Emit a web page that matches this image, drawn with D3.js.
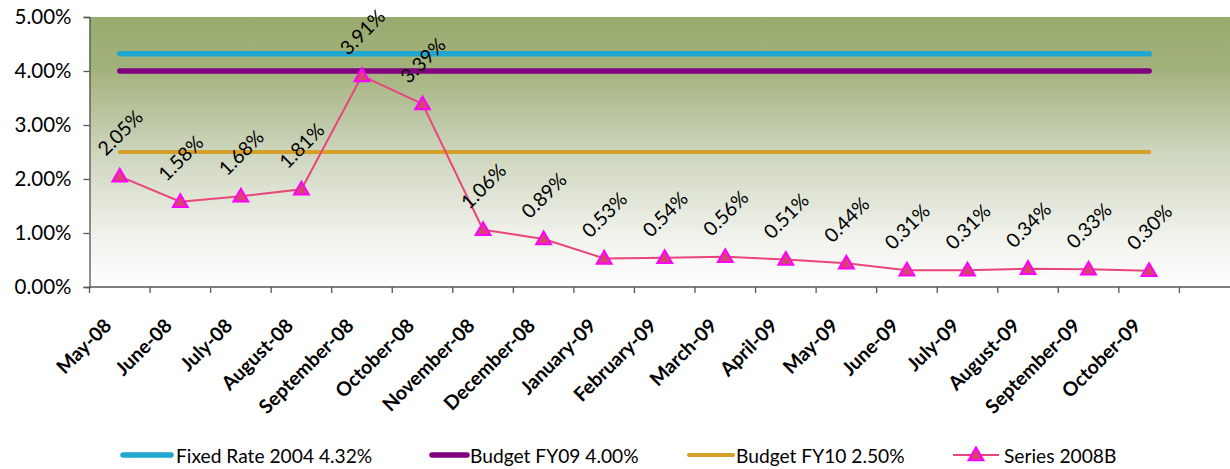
<!DOCTYPE html>
<html>
<head>
<meta charset="utf-8">
<script src="https://cdn.jsdelivr.net/npm/d3@7/dist/d3.min.js"></script>
<style>
  html, body { margin: 0; padding: 0; background: #ffffff; }
  svg { display: block; }
  text { font-family: Lato, "Open Sans", sans-serif; fill: #000; }
</style>
</head>
<body>
<svg id="chart" width="1230" height="469"></svg>
<script>
// Monthly categories (one trailing empty slot keeps the axis running past October-09)
const months = ["May-08", "June-08", "July-08", "August-08", "September-08", "October-08",
  "November-08", "December-08", "January-09", "February-09", "March-09", "April-09",
  "May-09", "June-09", "July-09", "August-09", "September-09", "October-09"];
const slots = months.concat([""]);

// Rates in percent
const series2008B = [2.05, 1.58, 1.68, 1.81, 3.91, 3.39, 1.06, 0.89, 0.53, 0.54,
  0.56, 0.51, 0.44, 0.31, 0.31, 0.34, 0.33, 0.30];
const fixedRate2004 = 4.32;
const budgetFY09 = 4.00;
const budgetFY10 = 2.50;

const yTicks = [0, 1, 2, 3, 4, 5];

const legendNames = ["Fixed Rate 2004 4.32%", "Budget FY09 4.00%", "Budget FY10 2.50%", "Series 2008B"];

const svg = d3.select("#chart");
const plotLeft = 89.5, plotTop = 17, plotBottom = 287;
const band = 60.55;

const x = d3.scaleBand().domain(d3.range(slots.length))
  .range([plotLeft, plotLeft + band * slots.length]).paddingInner(0).paddingOuter(0);
const cx = i => x(i) + x.bandwidth() / 2;
const y = d3.scaleLinear().domain([0, 5]).range([plotBottom, plotTop]);

// Plot-area gradient fill
const defs = svg.append("defs");
const grad = defs.append("linearGradient").attr("id", "plotFill")
  .attr("x1", 0).attr("y1", 0).attr("x2", 0).attr("y2", 1);
[[0, "#9aab70"], [0.18, "#a1b17a"], [0.5, "#cdd5bd"], [0.8, "#eff1ea"], [1, "#ffffff"]]
  .forEach(([o, c]) => grad.append("stop").attr("offset", o).attr("stop-color", c));

svg.append("rect")
  .attr("x", plotLeft).attr("y", plotTop)
  .attr("width", 1230 - plotLeft).attr("height", plotBottom - plotTop)
  .attr("fill", "url(#plotFill)");

// Y axis
const yAxis = d3.axisLeft(y).tickValues(yTicks).tickSize(6).tickPadding(12)
  .tickFormat(d => d3.format(".2%")(d / 100));
const gy = svg.append("g").attr("transform", `translate(${plotLeft},0)`).call(yAxis);
gy.select(".domain").attr("stroke", "#555").attr("stroke-width", 1.3);
gy.selectAll(".tick line").attr("stroke", "#555").attr("stroke-width", 1.3);
gy.selectAll(".tick text").attr("font-size", 20.5).attr("font-family", "Lato, sans-serif")
  .attr("fill", "#000");

// X axis baseline with tick marks between categories
const gx = svg.append("g");
gx.append("line").attr("x1", plotLeft).attr("x2", 1230)
  .attr("y1", plotBottom).attr("y2", plotBottom)
  .attr("stroke", "#555").attr("stroke-width", 1.3);
gx.selectAll("line.tk").data(d3.range(slots.length + 1)).join("line")
  .attr("class", "tk")
  .attr("x1", i => plotLeft + band * i).attr("x2", i => plotLeft + band * i)
  .attr("y1", plotBottom).attr("y2", plotBottom + 6)
  .attr("stroke", "#555").attr("stroke-width", 1.3);

gx.selectAll("text.cat").data(months).join("text")
  .attr("class", "cat")
  .attr("text-anchor", "end")
  .attr("font-size", 19.5).attr("font-weight", "bold")
  .attr("transform", (d, i) => `translate(${cx(i) - 7},${plotBottom + 40}) rotate(-45)`)
  .text(d => d);

// Reference rates as flat lines across the months
const refs = [
  { v: fixedRate2004, color: "#1fa7cf", w: 5.5 },
  { v: budgetFY09, color: "#800080", w: 5.5 },
  { v: budgetFY10, color: "#d4a02a", w: 4 }
];
refs.forEach(r => {
  svg.append("line")
    .attr("x1", cx(0)).attr("x2", cx(months.length - 1))
    .attr("y1", y(r.v)).attr("y2", y(r.v))
    .attr("stroke", r.color).attr("stroke-width", r.w).attr("stroke-linecap", "round");
});

// Series 2008B line with triangle markers
const line = d3.line().x((d, i) => cx(i)).y(d => y(d));
svg.append("path").datum(series2008B)
  .attr("d", line).attr("fill", "none")
  .attr("stroke", "#e8457a").attr("stroke-width", 2);

const tri = d3.symbol().type(d3.symbolTriangle).size(95);
const marker = (sel) => sel.attr("d", tri)
  .attr("fill", "#d8436f").attr("stroke", "#ff00ff").attr("stroke-width", 2);

svg.selectAll("path.mk").data(series2008B).join("path")
  .attr("class", "mk")
  .attr("transform", (d, i) => `translate(${cx(i)},${y(d) + 1})`)
  .call(marker);

// Value labels
svg.selectAll("text.val").data(series2008B).join("text")
  .attr("class", "val")
  .attr("text-anchor", "middle").attr("dominant-baseline", "central")
  .attr("font-size", 19.5)
  .attr("transform", (d, i) => `translate(${cx(i)},${y(d) - 44}) rotate(-45)`)
  .text(d => d3.format(".2f")(d) + "%");

// Legend
const legendY = 455;
const legendItems = [
  { name: legendNames[0], color: "#1fa7cf", w: 5.5, x1: 123, x2: 171, tx: 176 },
  { name: legendNames[1], color: "#800080", w: 5.5, x1: 432, x2: 467, tx: 470 },
  { name: legendNames[2], color: "#d4a02a", w: 4, x1: 689, x2: 733, tx: 736 },
  { name: legendNames[3], color: "#e8457a", w: 2, x1: 953, x2: 999, tx: 1004, marker: true }
];
const lg = svg.append("g");
legendItems.forEach(it => {
  lg.append("line").attr("x1", it.x1).attr("x2", it.x2)
    .attr("y1", legendY).attr("y2", legendY)
    .attr("stroke", it.color).attr("stroke-width", it.w)
    .attr("stroke-linecap", it.marker ? "butt" : "round");
  if (it.marker) {
    lg.append("path").attr("transform", `translate(${(it.x1 + it.x2) / 2},${legendY + 1})`)
      .call(marker);
  }
  lg.append("text").attr("x", it.tx).attr("y", legendY)
    .attr("dominant-baseline", "central").attr("font-size", 19.2)
    .text(it.name);
});
</script>
</body>
</html>
